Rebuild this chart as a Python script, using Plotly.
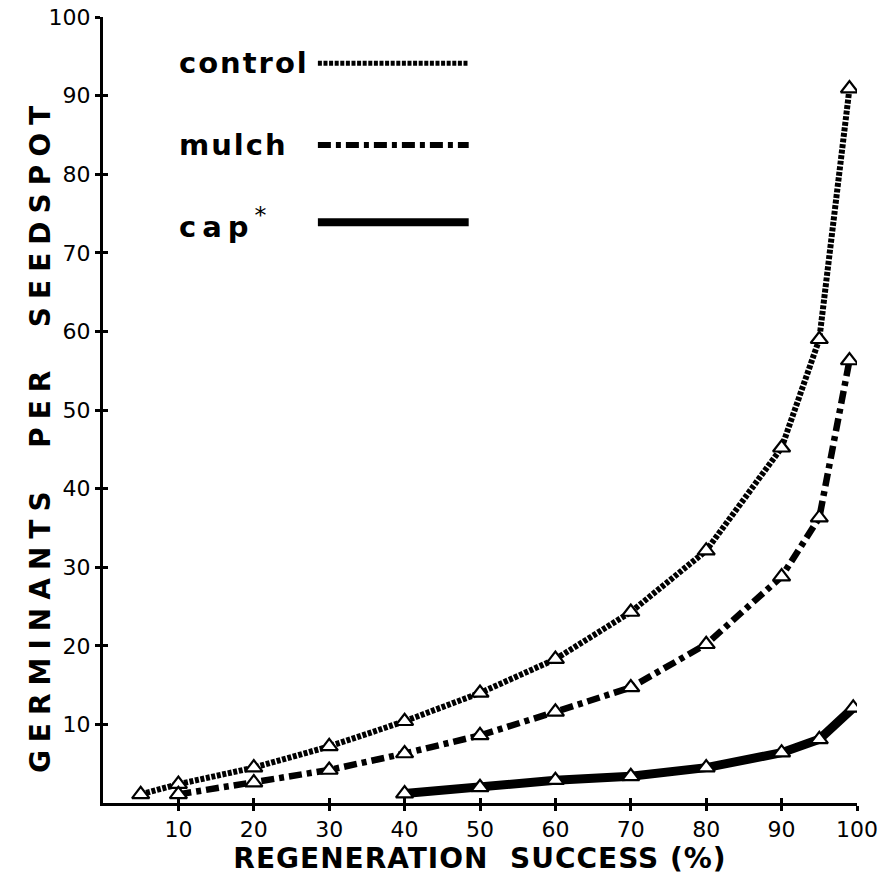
import plotly.graph_objects as go

# ---- data ----
control_x = [5, 10, 20, 30, 40, 50, 60, 70, 80, 90, 95, 99]
control_y = [1.1, 2.4, 4.5, 7.2, 10.4, 14.0, 18.3, 24.3, 32.1, 45.2, 59.0, 90.9]

mulch_x = [10, 20, 30, 40, 50, 60, 70, 80, 90, 95, 99]
mulch_y = [1.1, 2.6, 4.2, 6.3, 8.6, 11.6, 14.7, 20.2, 28.8, 36.3, 56.3]

cap_x = [40, 50, 60, 70, 80, 90, 95, 99.5]
cap_y = [1.2, 2.0, 2.9, 3.4, 4.5, 6.4, 8.1, 12.1]

tick_vals = [10, 20, 30, 40, 50, 60, 70, 80, 90, 100]
tick_text = [str(v) for v in tick_vals]

legend_names = ["control", "mulch", "cap"]

HEAVY = "DejaVu Sans"
TICK_FONT = dict(family="DejaVu Sans", size=22, color="black")


def spaced(t, px):
    return "<span style='letter-spacing:%dpx'>%s</span>" % (px, t)


marker = dict(symbol="triangle-up", size=15, color="white",
              line=dict(color="black", width=2.2))

CONTROL_DASH = "4px,1.6px"
MULCH_DASH = "13px,5px,5px,5px"

fig = go.Figure()
fig.add_trace(go.Scatter(x=control_x, y=control_y, mode="lines+markers",
                         line=dict(color="black", width=6, dash=CONTROL_DASH),
                         marker=marker, name="control", showlegend=False))
fig.add_trace(go.Scatter(x=mulch_x, y=mulch_y, mode="lines+markers",
                         line=dict(color="black", width=6.5, dash=MULCH_DASH),
                         marker=marker, name="mulch", showlegend=False))
fig.add_trace(go.Scatter(x=cap_x, y=cap_y, mode="lines+markers",
                         line=dict(color="black", width=9),
                         marker=marker, name="cap", showlegend=False))
# helper trace for crossing tick marks
fig.add_trace(go.Scatter(x=[None], y=[None], xaxis="x2", yaxis="y2",
                         showlegend=False, hoverinfo="skip"))

axis_common = dict(range=[0, 100], showgrid=False, zeroline=False,
                   tickvals=tick_vals, ticktext=tick_text, automargin=False)

fig.update_layout(
    width=895, height=878,
    margin=dict(l=103, r=38, t=17, b=75),
    paper_bgcolor="white", plot_bgcolor="white",
    xaxis=dict(**axis_common,
               showline=True, linecolor="black", linewidth=3,
               ticks="outside", ticklen=5, tickwidth=2.5, tickcolor="black",
               tickfont=TICK_FONT, ticklabeloverflow="allow",
               title=dict(text=spaced("REGENERATION  SUCCESS (%)", 1),
                          font=dict(family=HEAVY, size=28, color="black", weight="bold"),
                          standoff=2)),
    yaxis=dict(**axis_common,
               showline=True, linecolor="black", linewidth=3,
               ticks="outside", ticklen=5, tickwidth=2.5, tickcolor="black",
               tickfont=TICK_FONT, ticklabeloverflow="allow"),
    xaxis2=dict(**axis_common, overlaying="x", anchor="y2",
                showline=False, ticks="inside", ticklen=5, tickwidth=2.5,
                tickcolor="black", showticklabels=False),
    yaxis2=dict(**axis_common, overlaying="y", anchor="x2",
                showline=False, ticks="inside", ticklen=5, tickwidth=2.5,
                tickcolor="black", showticklabels=False),
)

# y-axis title as a rotated annotation (placed like the reference)
fig.add_annotation(xref="paper", yref="paper", x=-0.0836, y=0.468,
                   text=spaced("GERMINANTS  PER  SEEDSPOT", 8), textangle=-90,
                   showarrow=False, xanchor="center", yanchor="middle",
                   font=dict(family=HEAVY, size=28, color="black", weight="bold"))

# legend drawn as text + sample lines
leg_y = [0.941, 0.837, 0.739]
leg_dash = [CONTROL_DASH, MULCH_DASH, "solid"]
leg_width = [5, 6, 8]
labels = [spaced("control", 2), spaced("mulch", 2),
          spaced("cap", 6) + "<span style='font-weight:400;font-size:34px'><sup>*</sup></span>"]
for name, lab, yy, d, w in zip(legend_names, labels, leg_y, leg_dash, leg_width):
    fig.add_annotation(xref="paper", yref="paper", x=0.098, y=yy, text=lab,
                       showarrow=False, xanchor="left", yanchor="middle",
                       font=dict(family=HEAVY, size=29, color="black", weight="bold"))
    fig.add_shape(type="line", xref="paper", yref="paper", x0=0.285, x1=0.485,
                  y0=yy, y1=yy, line=dict(color="black", width=w, dash=d))

fig.write_html("out.html", config={"displayModeBar": False},
               post_script="document.body.style.margin='0';document.body.style.overflow='hidden';")
